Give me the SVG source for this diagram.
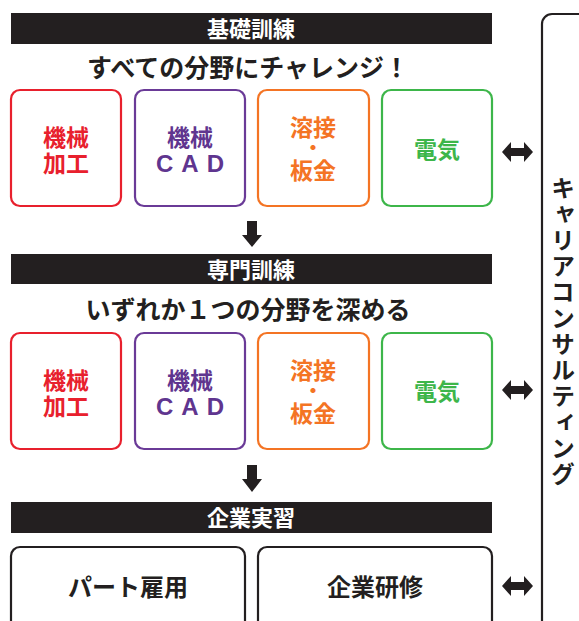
<svg xmlns="http://www.w3.org/2000/svg" width="579" height="621" viewBox="0 0 579 621">
<style>
text{font-family:"Noto Sans CJK JP","Noto Sans",sans-serif;font-weight:700;text-anchor:middle}
.bar{fill:#231f20}
.bt{fill:#fff;font-size:22px}
.sub{fill:#231f20;font-size:25px}
.box{fill:#fff;stroke-width:2.2}
.r{stroke:#e8202d}.p{stroke:#6a3a97}.o{stroke:#f47424}.g{stroke:#3db64a}.k{stroke:#231f20}
.tr{fill:#e8202d;font-size:23px}.tp{fill:#5f358f;font-size:23px}.to{fill:#f47424;font-size:23px}.tg{fill:#3db64a;font-size:23px}
.dot{font-size:20px}
.cad{font-family:"Liberation Sans",Arial,sans-serif;font-size:24px;letter-spacing:8px}
.tk{fill:#231f20;font-size:24px}
.arr{fill:#231f20}
</style>
<g id="bar1"><rect class="bar" x="11" y="13" width="481" height="31"/><text class="bt" x="251" y="37">基礎訓練</text></g>
<g id="sub1"><text class="sub" x="248" y="77">すべての分野にチャレンジ！</text></g>
<g id="r1-kikai-kako"><rect class="box r" x="11" y="90" width="110" height="116" rx="9"/><text class="tr" x="66" y="145.5">機械</text><text class="tr" x="66" y="171.5">加工</text></g>
<g id="r1-kikai-cad"><rect class="box p" x="135" y="90" width="110" height="116" rx="9"/><text class="tp" x="190" y="145.5">機械</text><text class="tp cad" x="194" y="172">CAD</text></g>
<g id="r1-yosetsu"><rect class="box o" x="258" y="90" width="111" height="116" rx="9"/><text class="to" x="313" y="136">溶接</text><text class="to dot" x="313" y="155">・</text><text class="to" x="313" y="178.5">板金</text></g>
<g id="r1-denki"><rect class="box g" x="382" y="90" width="110" height="116" rx="9"/><text class="tg" x="437" y="158">電気</text></g>

<g id="bar2"><rect class="bar" x="11" y="254" width="481" height="30"/><text class="bt" x="251" y="277.5">専門訓練</text></g>
<g id="sub2"><text class="sub" x="248" y="319">いずれか１つの分野を深める</text></g>
<g id="r2-kikai-kako"><rect class="box r" x="11" y="333" width="110" height="116" rx="9"/><text class="tr" x="66" y="388.5">機械</text><text class="tr" x="66" y="414.5">加工</text></g>
<g id="r2-kikai-cad"><rect class="box p" x="135" y="333" width="110" height="116" rx="9"/><text class="tp" x="190" y="388.5">機械</text><text class="tp cad" x="194" y="415">CAD</text></g>
<g id="r2-yosetsu"><rect class="box o" x="258" y="333" width="111" height="116" rx="9"/><text class="to" x="313" y="379">溶接</text><text class="to dot" x="313" y="398">・</text><text class="to" x="313" y="421.5">板金</text></g>
<g id="r2-denki"><rect class="box g" x="382" y="333" width="110" height="116" rx="9"/><text class="tg" x="437" y="400">電気</text></g>

<g id="bar3"><rect class="bar" x="11" y="502" width="481" height="31"/><text class="bt" x="251" y="526">企業実習</text></g>
<g id="part"><rect class="box k" x="11" y="547" width="234" height="100" rx="9"/><text class="tk" x="128" y="596">パート雇用</text></g>
<g id="kenshu"><rect class="box k" x="258" y="547" width="234" height="100" rx="9"/><text class="tk" x="375" y="596">企業研修</text></g>

<g id="career"><rect class="box k" x="542" y="14" width="60" height="650" rx="10"/><text class="tk" x="563" y="332" style="writing-mode:vertical-rl;text-orientation:upright;letter-spacing:2px">キャリアコンサルティング</text></g>

<g id="connectors">
<path class="arr" d="M247,221H257V235H262L252,247L242,235H247Z"/>
<path class="arr" d="M247,465H257V479H262L252,492L242,479H247Z"/>
<path class="arr" d="M502,152L511,142V148H524V142L533,152L524,162V156H511V162Z"/>
<path class="arr" d="M502,390L511,380V386H524V380L533,390L524,400V394H511V400Z"/>
<path class="arr" d="M502,586L511,576V582H524V576L533,586L524,596V590H511V596Z"/>
</g>
</svg>
